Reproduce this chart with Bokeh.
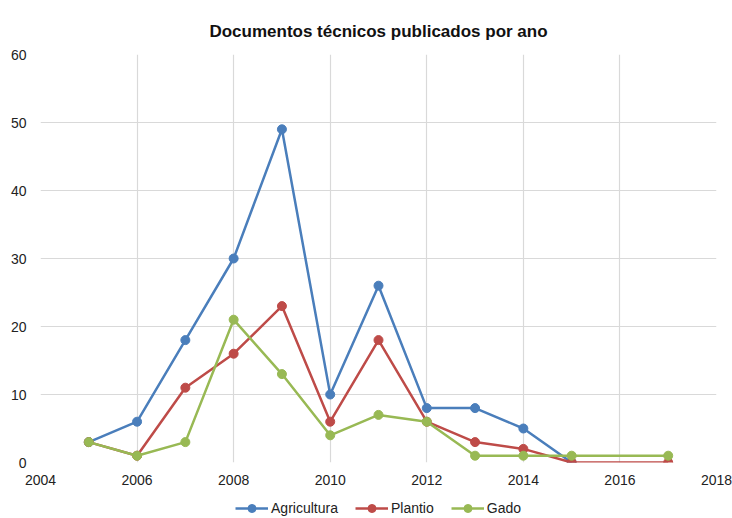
from bokeh.plotting import figure
from bokeh.models import Range1d, FixedTicker, Legend, LegendItem
from bokeh.layouts import column
from bokeh.embed import file_html
from bokeh.resources import INLINE

years_agri = [2005, 2006, 2007, 2008, 2009, 2010, 2011, 2012, 2013, 2014, 2015]
agricultura = [3, 6, 18, 30, 49, 10, 26, 8, 8, 5, 0]
years_plantio = [2005, 2006, 2007, 2008, 2009, 2010, 2011, 2012, 2013, 2014, 2015, 2017]
plantio = [3, 1, 11, 16, 23, 6, 18, 6, 3, 2, 0, 0]
years_gado = [2005, 2006, 2007, 2008, 2009, 2010, 2011, 2012, 2013, 2014, 2015, 2017]
gado = [3, 1, 3, 21, 13, 4, 7, 6, 1, 1, 1, 1]
x_ticks = [2004, 2006, 2008, 2010, 2012, 2014, 2016, 2018]
y_ticks = [0, 10, 20, 30, 40, 50, 60]

FONT = "Liberation Sans"

p = figure(width=732, height=498, output_backend="svg", toolbar_location=None,
           x_range=Range1d(2004, 2018), y_range=Range1d(0, 60),
           min_border_left=40, min_border_right=16, min_border_top=54, min_border_bottom=36)
p.title.text = "Documentos técnicos publicados por ano"
p.title.align = "center"
p.title.text_font = FONT
p.title.text_font_size = "17px"
p.title.text_font_style = "bold"
p.title.text_color = "#111111"
p.title.standoff = 28
p.outline_line_color = None

for ax in (p.xaxis, p.yaxis):
    ax.axis_line_color = None
    ax.major_tick_line_color = None
    ax.minor_tick_line_color = None
    ax.major_label_text_font = FONT
    ax.major_label_text_font_size = "14px"
    ax.major_label_text_color = "#222222"
p.xaxis.ticker = FixedTicker(ticks=x_ticks)
p.yaxis.ticker = FixedTicker(ticks=y_ticks)
p.xaxis.major_label_standoff = 6
p.yaxis.major_label_standoff = 8

p.xgrid.ticker = FixedTicker(ticks=x_ticks)
p.ygrid.ticker = FixedTicker(ticks=y_ticks)
p.grid.grid_line_color = "#d9d9d9"
p.grid.grid_line_width = 1.2

series = [
    ("Agricultura", years_agri, agricultura, "#4a7ebb"),
    ("Plantio", years_plantio, plantio, "#be4b48"),
    ("Gado", years_gado, gado, "#98b954"),
]

# legend strip below the chart; its renderers lie outside its (empty) view
pl = figure(width=732, height=20, output_backend="svg", toolbar_location=None,
            x_range=Range1d(0, 1), y_range=Range1d(-1000, -999),
            min_border_left=40, min_border_right=16, min_border_top=0, min_border_bottom=0)
pl.axis.visible = False
pl.grid.visible = False
pl.outline_line_color = None

items = []
for name, xs, ys, col in series:
    p.line(xs, ys, line_color=col, line_width=2.5)
    p.scatter(xs, ys, size=9, fill_color=col, line_color=col)
    dl = pl.line(xs, ys, line_color=col, line_width=2.5)
    dc = pl.scatter(xs, ys, size=9, fill_color=col, line_color=col)
    items.append(LegendItem(label=name, renderers=[dl, dc]))

legend = Legend(items=items, orientation="horizontal", location="center",
                label_text_font=FONT, label_text_font_size="14px", label_text_color="#222222",
                border_line_color=None, background_fill_alpha=0, glyph_width=33,
                spacing=17, margin=0, padding=0, label_standoff=3)
pl.add_layout(legend)

layout = column(p, pl, spacing=0)
open("out.html", "w").write(file_html(layout, INLINE))
